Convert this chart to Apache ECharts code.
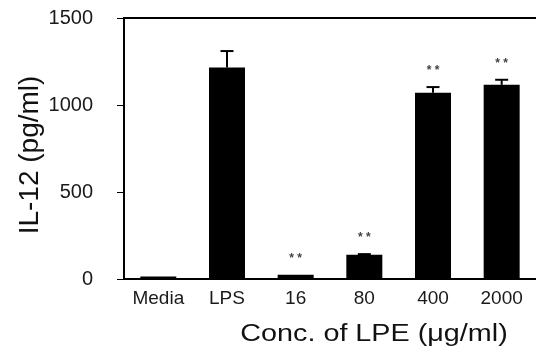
<!DOCTYPE html>
<html>
<head>
<meta charset="utf-8">
<script src="https://cdn.jsdelivr.net/npm/echarts@6/dist/echarts.min.js"></script>
<style>
html, body { margin: 0; padding: 0; background: #fff; }
#chart { width: 536px; height: 354px; }
</style>
</head>
<body>
<div id="chart"></div>
<script>
var categories = ['Media', 'LPS', '16', '80', '400', '2000'];
var values = [14, 1215, 25, 139, 1071, 1116];
var errors = [0, 95, 0, 4, 32, 29];
var marks = ['', '', '**', '**', '**', '**'];
var yTicks = [0, 500, 1000, 1500];

var chart = echarts.init(document.getElementById('chart'));

var errData = [];
for (var i = 0; i < categories.length; ++i) {
    errData.push([i, values[i], errors[i], marks[i]]);
}

chart.setOption({
    animation: false,
    grid: { left: 124, right: 0, top: 18, bottom: 75 },
    xAxis: [{
        type: 'category',
        data: categories,
        axisLine: { lineStyle: { color: '#000', width: 2 } },
        axisTick: { alignWithLabel: true, length: 5, lineStyle: { color: '#000', width: 1 } },
        axisLabel: { color: '#1a1a1a', fontSize: 19, fontFamily: 'Liberation Sans', margin: 10 }
    }, {
        type: 'category',
        position: 'top',
        data: categories,
        axisLine: { lineStyle: { color: '#000', width: 2 } },
        axisTick: { show: false },
        axisLabel: { show: false }
    }],
    yAxis: {
        type: 'value',
        min: yTicks[0],
        max: yTicks[yTicks.length - 1],
        interval: 500,
        axisLine: { show: true, lineStyle: { color: '#000', width: 2 } },
        axisTick: { show: true, length: 7, lineStyle: { color: '#000', width: 1 } },
        axisLabel: {
            color: '#1a1a1a', fontSize: 20, fontFamily: 'Liberation Sans', margin: 31,
            formatter: function (v) { return String(v); }
        },
        splitLine: { show: false }
    },
    graphic: [{
        type: 'text',
        x: 30,
        y: 155,
        rotation: Math.PI / 2,
        style: {
            text: 'IL-12 (pg/ml)',
            font: '28px "Liberation Sans"',
            fill: '#111',
            textAlign: 'center',
            textVerticalAlign: 'middle'
        }
    }, {
        type: 'text',
        x: 374,
        y: 335,
        scaleX: 1.25,
        style: {
            text: 'Conc. of LPE (\u03bcg/ml)',
            font: '23px "Liberation Sans"',
            fill: '#111',
            textAlign: 'center',
            textVerticalAlign: 'middle'
        }
    }],
    series: [{
        type: 'bar',
        data: values,
        barWidth: 36,
        itemStyle: { color: '#000' },
        z: 2
    }, {
        type: 'custom',
        data: errData,
        z: 3,
        renderItem: function (params, api) {
            var x = api.coord([api.value(0), 0])[0];
            var top = api.value(1);
            var err = api.value(2);
            var p0 = api.coord([api.value(0), top]);
            var p1 = api.coord([api.value(0), top + err]);
            var children = [];
            if (err > 0) {
                children.push({
                    type: 'line',
                    shape: { x1: x, y1: p0[1], x2: x, y2: p1[1] },
                    style: { stroke: '#000', lineWidth: 2 }
                });
                children.push({
                    type: 'line',
                    shape: { x1: x - 6.5, y1: p1[1], x2: x + 6.5, y2: p1[1] },
                    style: { stroke: '#000', lineWidth: 2 }
                });
            }
            var mark = api.value(3);
            if (mark) {
                children.push({
                    type: 'text',
                    x: x,
                    y: p1[1] - 16,
                    style: {
                        text: '* *',
                        font: 'bold 12px "Liberation Sans"',
                        fill: '#444',
                        textAlign: 'center',
                        textVerticalAlign: 'middle'
                    }
                });
            }
            return { type: 'group', children: children };
        }
    }]
});
</script>
</body>
</html>
